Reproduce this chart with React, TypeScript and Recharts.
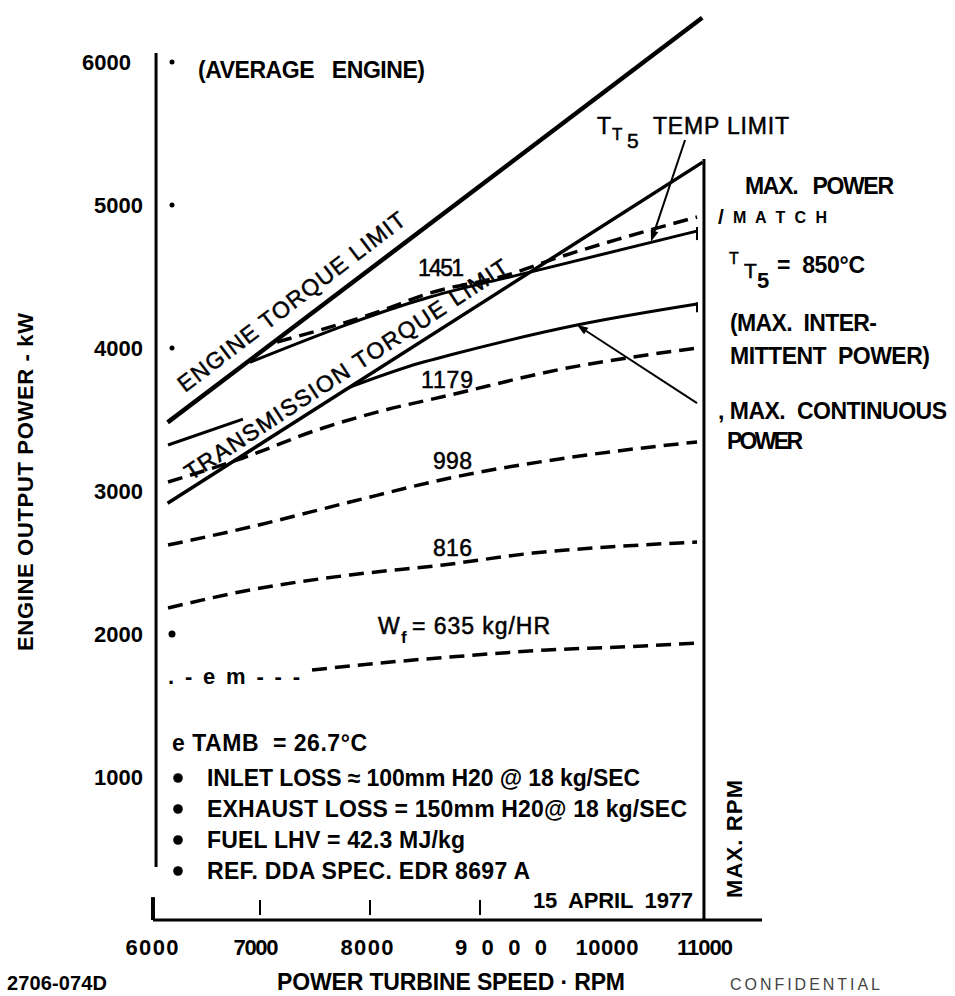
import React from "react"
import { LineChart, Line, XAxis, YAxis, ReferenceLine, ReferenceDot } from "recharts"

// Power turbine speed (rpm) against engine output power (kW)
const engineTorqueLimit = [
  { x: 6160, y: 3480 },
  { x: 11020, y: 6310 },
]
const transmissionTorqueLimit = [
  { x: 6160, y: 2915 },
  { x: 11025, y: 5300 },
]
// T_T5 = 850 C (max. intermittent power)
const maxIntermittent = [
  { x: 6909, y: 3900 },
  { x: 8545, y: 4357 },
  { x: 9455, y: 4531 },
  { x: 10973, y: 4818 },
]
const maxContinuous = [
  { x: 7818, y: 3727 },
  { x: 8455, y: 3895 },
  { x: 8727, y: 3951 },
  { x: 9882, y: 4161 },
  { x: 10973, y: 4308 },
]
const stubLine = [
  { x: 6164, y: 3322 },
  { x: 6845, y: 3503 },
]

// constant fuel flow lines, kg/hr
const wf1451 = [
  { x: 7155, y: 4042 },
  { x: 8064, y: 4250 },
  { x: 8545, y: 4385 },
  { x: 9245, y: 4510 },
  { x: 9700, y: 4630 },
  { x: 10250, y: 4760 },
  { x: 10973, y: 4916 },
]
const wf1179 = [
  { x: 6164, y: 3063 },
  { x: 6845, y: 3231 },
  { x: 7518, y: 3427 },
  { x: 8064, y: 3552 },
  { x: 8727, y: 3671 },
  { x: 9791, y: 3860 },
  { x: 10391, y: 3937 },
  { x: 10973, y: 4000 },
]
const wf998 = [
  { x: 6164, y: 2622 },
  { x: 6909, y: 2748 },
  { x: 7818, y: 2923 },
  { x: 8727, y: 3091 },
  { x: 9973, y: 3252 },
  { x: 10973, y: 3343 },
]
const wf816 = [
  { x: 6164, y: 2182 },
  { x: 6909, y: 2308 },
  { x: 7818, y: 2413 },
  { x: 8664, y: 2483 },
  { x: 9482, y: 2566 },
  { x: 10300, y: 2615 },
  { x: 10973, y: 2643 },
]
const wf635 = [
  { x: 7473, y: 1748 },
  { x: 8091, y: 1797 },
  { x: 8727, y: 1839 },
  { x: 9609, y: 1888 },
  { x: 10273, y: 1909 },
  { x: 10973, y: 1937 },
]

const xTicks = [6000, 7000, 8000, 9000, 10000, 11000]
const xTickLabels = ["6000", "7000", "8000", "9 0 0 0", "10000", "11000"]
const yTicks = [1000, 2000, 3000, 4000, 5000, 6000]
const yTickLabels = ["1000", "2000", "3000", "4000", "5000", "6000"]
const axisDots = [6000, 5000, 4000, 2000]

// label nudges and widths for the hand-lettered tick labels
const xTickShift = [2, -4, -3, 21, 17, 5]
const xTickWidth = [53, 45, 53, 92, 63, 56]
const yTickShift = [0, 0, 0, 0, 0, -12]

const FONT = '"Liberation Sans", Arial, Helvetica, sans-serif'
const INK = "#000"

function XTick(props: any) {
  const { x, y, payload } = props
  const i = xTicks.indexOf(payload.value)
  return (
    <text x={x + xTickShift[i]} y={y + 35} textAnchor="middle" fontFamily={FONT} fontSize={22}
      fontWeight={700} fill={INK} textLength={xTickWidth[i]} lengthAdjust="spacing" style={{ whiteSpace: "pre" }}>
      {xTickLabels[i]}
    </text>
  )
}

function YTick(props: any) {
  const { x, y, payload } = props
  const i = yTicks.indexOf(payload.value)
  return (
    <text x={x - 7 + yTickShift[i]} y={y} dy="0.36em" textAnchor="end" fontFamily={FONT} fontSize={22}
      fontWeight={700} fill={INK}>
      {yTickLabels[i]}
    </text>
  )
}

function Arrow(props: any) {
  const { x1, y1, x2, y2 } = props
  const a = Math.atan2(y2 - y1, x2 - x1)
  const len = 11
  const half = 4
  const bx = x2 - len * Math.cos(a)
  const by = y2 - len * Math.sin(a)
  const px = -Math.sin(a) * half
  const py = Math.cos(a) * half
  return (
    <g>
      <line x1={x1} y1={y1} x2={bx} y2={by} stroke={INK} strokeWidth={2} />
      <polygon points={`${x2},${y2} ${bx + px},${by + py} ${bx - px},${by - py}`} fill={INK} />
    </g>
  )
}

function Txt({ x, y, size = 23, bold = true, w, anchor = "start", rotate, children, fill = INK, heavy }: any) {
  return (
    <text x={x} y={y} fontFamily={FONT} fontSize={size} fontWeight={bold ? 700 : 400} textAnchor={anchor}
      textLength={w} lengthAdjust={w ? "spacing" : undefined}
      stroke={heavy ? fill : undefined} strokeWidth={heavy ? 0.5 : undefined}
      transform={rotate ? `rotate(${rotate} ${x} ${y})` : undefined} fill={fill} style={{ whiteSpace: "pre" }}>
      {children}
    </text>
  )
}

function Notes() {
  return (
    <svg width={955} height={996} style={{ position: "absolute", left: 0, top: 0, pointerEvents: "none" }}>
      <Txt x={198} y={78} w={227}>(AVERAGE   ENGINE)</Txt>

      <Txt x={185} y={393} rotate={-37.4} bold={false} heavy size={23} w={280}>ENGINE TORQUE LIMIT</Txt>
      <Txt x={191} y={481} rotate={-33.3} bold={false} heavy size={23} w={382}>TRANSMISSION TORQUE LIMIT</Txt>

      <Txt x={418} y={276} bold={false} heavy size={23} w={46}>1451</Txt>
      <Txt x={421} y={388} bold={false} heavy size={23} w={52}>1179</Txt>
      <Txt x={433} y={469} bold={false} heavy size={23} w={39}>998</Txt>
      <Txt x={433} y={556} bold={false} heavy size={23} w={39}>816</Txt>

      <Txt x={378} y={634} bold={false} heavy size={23}>W</Txt>
      <Txt x={401} y={643} size={17}>f</Txt>
      <Txt x={412} y={634} bold={false} heavy size={23} w={138}>= 635 kg/HR</Txt>

      <Txt x={597} y={134} bold={false} heavy size={23}>T</Txt>
      <Txt x={612} y={140} bold={false} heavy size={17}>T</Txt>
      <Txt x={627} y={148} bold={false} heavy size={21}>5</Txt>
      <Txt x={653} y={134} bold={false} heavy size={23} w={136}>TEMP LIMIT</Txt>

      <Txt x={745} y={194} w={149}>MAX.   POWER</Txt>
      <Txt x={718} y={224} size={21}>/</Txt>
      <Txt x={733} y={223} size={16} w={94}>M A T C H</Txt>

      <Txt x={729} y={264} bold={false} heavy size={16}>T</Txt>
      <Txt x={744} y={278} bold={false} heavy size={21}>T</Txt>
      <Txt x={757} y={288} size={22}>5</Txt>
      <Txt x={777} y={273} w={88}>=  850°C</Txt>

      <Txt x={730} y={331} w={147}>(MAX.  INTER-</Txt>
      <Txt x={730} y={364} w={200}>MITTENT  POWER)</Txt>
      <Txt x={718} y={419} w={229}>, MAX.  CONTINUOUS</Txt>
      <Txt x={727} y={449} w={76}>POWER</Txt>

      <Txt x={168} y={684} size={22} w={132}>. - e m - - -</Txt>

      <Txt x={172} y={751} w={195}>e TAMB  = 26.7°C</Txt>
      {[778, 809, 840, 871].map((cy) => (
        <circle key={cy} cx={178} cy={cy} r={4.8} fill={INK} />
      ))}
      <Txt x={207} y={786} w={433}>INLET LOSS ≈ 100mm H20 @ 18 kg/SEC</Txt>
      <Txt x={207} y={817} w={480}>EXHAUST LOSS = 150mm H20@ 18 kg/SEC</Txt>
      <Txt x={207} y={848} w={258}>FUEL LHV = 42.3 MJ/kg</Txt>
      <Txt x={207} y={879} w={323}>REF. DDA SPEC. EDR 8697 A</Txt>

      <Txt x={533} y={908} size={22} w={160}>15  APRIL  1977</Txt>
      <Txt x={742} y={898} rotate={-90} size={22} w={118}>MAX. RPM</Txt>

      <Txt x={33} y={651} rotate={-90} size={22} w={338}>ENGINE OUTPUT POWER - kW</Txt>
      <Txt x={277} y={990} w={348}>POWER TURBINE SPEED · RPM</Txt>
      <Txt x={7} y={990} size={20} w={100}>2706-074D</Txt>
      <Txt x={730} y={990} bold={false} size={16} w={150} fill="#444">CONFIDENTIAL</Txt>
    </svg>
  )
}

const solid = { stroke: INK, dot: false, activeDot: false, isAnimationActive: false, fill: "none" } as const
const dashed = { ...solid, strokeWidth: 3.5, strokeDasharray: "15 8", type: "monotone" } as const

export default function App() {
  return (
    <div style={{ position: "absolute", left: 0, top: 0, width: 955, height: 996, background: "#fff" }}>
      <LineChart width={955} height={996} margin={{ top: 12, right: 35, bottom: 0, left: 0 }}>
        <XAxis type="number" dataKey="x" domain={[6000, 13000]} ticks={xTicks} axisLine={false} tickLine={false}
          tickSize={0} tickMargin={0} height={76} tick={<XTick />} interval={0} allowDataOverflow />
        <YAxis type="number" dataKey="y" domain={[0, 6350]} ticks={yTicks} axisLine={false} tickLine={false}
          tickSize={0} tickMargin={0} width={150} tick={<YTick />} interval={0} allowDataOverflow />

        {/* broken axes, max rpm line and tick marks */}
        <ReferenceLine segment={[{ x: 6055, y: 371 }, { x: 6055, y: 6063 }]} stroke={INK} strokeWidth={3} ifOverflow="visible" />
        <ReferenceLine segment={[{ x: 6027, y: 0 }, { x: 11564, y: 0 }]} stroke={INK} strokeWidth={3} ifOverflow="visible" />
        <ReferenceLine segment={[{ x: 6027, y: 0 }, { x: 6027, y: 160 }]} stroke={INK} strokeWidth={4} ifOverflow="visible" />
        <ReferenceLine segment={[{ x: 11036, y: 0 }, { x: 11036, y: 5322 }]} stroke={INK} strokeWidth={3} ifOverflow="visible" />
        {[7000, 8000, 9000].map((t) => (
          <ReferenceLine key={t} segment={[{ x: t, y: 35 }, { x: t, y: 140 }]} stroke={INK} strokeWidth={2} />
        ))}
        <ReferenceLine segment={[{ x: 10973, y: 4846 }, { x: 10973, y: 4755 }]} stroke={INK} strokeWidth={2} />
        <ReferenceLine segment={[{ x: 10973, y: 4320 }, { x: 10973, y: 4250 }]} stroke={INK} strokeWidth={2} />
        {axisDots.map((v) => (
          <ReferenceDot key={v} x={6200} y={v} r={v === 2000 ? 3.5 : 2.5} fill={INK} stroke="none" />
        ))}

        <Line {...dashed} data={wf1451} dataKey="y" />
        <Line {...dashed} data={wf1179} dataKey="y" />
        <Line {...dashed} data={wf998} dataKey="y" />
        <Line {...dashed} data={wf816} dataKey="y" />
        <Line {...dashed} data={wf635} dataKey="y" />

        <Line {...solid} type="linear" data={engineTorqueLimit} dataKey="y" strokeWidth={4.5} />
        <Line {...solid} type="linear" data={transmissionTorqueLimit} dataKey="y" strokeWidth={3.5} />
        <Line {...solid} type="monotone" data={maxIntermittent} dataKey="y" strokeWidth={3} />
        <Line {...solid} type="monotone" data={maxContinuous} dataKey="y" strokeWidth={3} />
        <Line {...solid} type="linear" data={stubLine} dataKey="y" strokeWidth={3} />

        {/* leader arrows to the T_T5 and max. continuous lines */}
        <ReferenceLine segment={[{ x: 10864, y: 5455 }, { x: 10555, y: 4745 }]} shape={<Arrow />} />
        <ReferenceLine segment={[{ x: 10973, y: 3615 }, { x: 9882, y: 4161 }]} shape={<Arrow />} />
      </LineChart>
      <Notes />
    </div>
  )
}
